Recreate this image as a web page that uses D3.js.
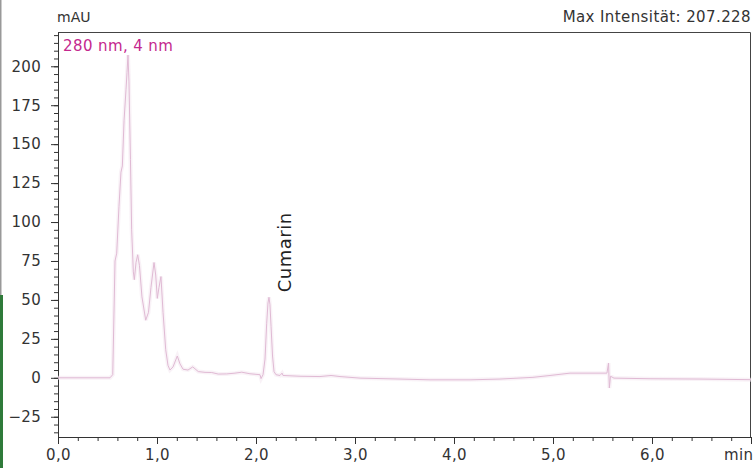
<!DOCTYPE html>
<html>
<head>
<meta charset="utf-8">
<script src="https://cdn.jsdelivr.net/npm/d3@7"></script>
<style>
  body { margin: 0; background: #fff; }
  svg { display: block; }
  .axis path, .axis line { stroke: #333; }
</style>
</head>
<body>
<script>

// retention time (min) and absorbance (mAU)
var times = [0, 0.525, 0.553, 0.576, 0.593, 0.616, 0.636, 0.65, 0.667, 0.687, 0.697, 0.707, 0.717, 0.732, 0.744,
    0.761, 0.771, 0.788, 0.805, 0.823, 0.848, 0.886, 0.914, 0.939, 0.97, 0.987, 1.003, 1.02, 1.04, 1.061,
    1.088, 1.111, 1.131, 1.162, 1.205, 1.232, 1.263, 1.313, 1.361, 1.417, 1.485, 1.553, 1.619, 1.704, 1.788,
    1.856, 1.939, 2.04, 2.051, 2.071, 2.091, 2.108, 2.121, 2.131, 2.141, 2.152, 2.167, 2.182, 2.202, 2.242,
    2.263, 2.273, 2.444, 2.646, 2.758, 2.848, 3.051, 3.455, 3.758, 4.162, 4.465, 4.798, 4.97, 5.172, 5.545,
    5.561, 5.569, 5.581, 5.616, 5.98, 6.485, 7.0];
var signal = [0, 0, 2, 75, 80, 110, 132, 136, 165, 185, 196, 207.2, 190, 140, 95,
    68, 63, 74, 79, 72, 52, 37, 42, 58, 74, 66, 51, 58, 65, 42,
    18, 8, 5, 7, 14, 9, 5.5, 5, 7, 4, 3.5, 3.4, 2.4, 2.5, 3,
    3.6, 2.6, 2, -0.5, 2, 12, 35, 48, 51.7, 47, 33, 14, 4, 2, 1.5,
    3, 1.5, 1, 0.8, 1.5, 0.8, -0.2, -0.8, -1.3, -1.3, -0.8, 0.3, 1.5, 3, 3,
    9.5, -6.5, 1, -0.2, -0.6, -0.8, -1.2];

var xMajor = [0, 1, 2, 3, 4, 5, 6, 7];
var xLabels = ["0,0", "1,0", "2,0", "3,0", "4,0", "5,0", "6,0", "min"];
var yMajor = [-25, 0, 25, 50, 75, 100, 125, 150, 175, 200];

var yUnit = "mAU";
var maxLabel = "Max Intensität: 207.228";
var channelLabel = "280 nm, 4 nm";
var peakName = "Cumarin", peakTime = 2.131, peakValue = 51.7;

var font = "'DejaVu Sans', 'Noto Sans', sans-serif";

var W = 755, H = 468;
var margin = {top: 32, right: 4, bottom: 31, left: 58},
    width = W - margin.left - margin.right,
    height = H - margin.top - margin.bottom;

var data = times.map(function(t, i) { return {t: t, v: signal[i]}; });

var svg = d3.select("body").append("svg")
    .attr("width", W)
    .attr("height", H)
    .attr("font-family", font);

// cropped page edge on the left
svg.append("rect").attr("x", 0).attr("y", 0).attr("width", 1.5).attr("height", 295).attr("fill", "#999");
svg.append("rect").attr("x", 0).attr("y", 295).attr("width", 3).attr("height", H - 295).attr("fill", "#2f7a3a");

var g = svg.append("g")
    .attr("transform", "translate(" + margin.left + "," + margin.top + ")");

var x = d3.scaleLinear().domain([0, 7]).range([0, width]);
var y = d3.scaleLinear().domain([-38, 222]).range([height, 0]);

// frame (top and right)
g.append("path")
    .attr("d", "M0,0.5H" + (width - 0.5) + "V" + height)
    .attr("fill", "none")
    .attr("stroke", "#444");

// minor ticks
g.append("g")
    .attr("class", "axis")
    .attr("transform", "translate(0," + height + ")")
    .call(d3.axisBottom(x).tickValues(d3.range(0, 7.01, 0.2)).tickSize(4).tickFormat(""))
    .call(function(s) { s.select(".domain").remove(); });
g.append("g")
    .attr("class", "axis")
    .call(d3.axisLeft(y).tickValues(d3.range(-35, 221, 5)).tickSize(4).tickFormat(""))
    .call(function(s) { s.select(".domain").remove(); });

function styleTicks(s) {
    s.attr("font-family", font).attr("font-size", 15);
    s.selectAll("text").attr("fill", "#333").attr("letter-spacing", 0.4);
}

// major axes
var xAxis = g.append("g")
    .attr("class", "axis")
    .attr("transform", "translate(0," + height + ")")
    .call(d3.axisBottom(x).tickValues(xMajor).tickSize(7).tickSizeOuter(0)
        .tickFormat(function(d, i) { return xLabels[i]; }))
    .call(styleTicks);
xAxis.selectAll("text").attr("dy", "0.85em");
xAxis.selectAll(".tick").filter(function(d) { return d === 7; })
    .select("text").attr("text-anchor", "end").attr("x", 2);

g.append("g")
    .attr("class", "axis")
    .call(d3.axisLeft(y).tickValues(yMajor).tickSize(7).tickSizeOuter(0)
        .tickFormat(function(d) { return d < 0 ? "\u2212" + Math.abs(d) : d; }))
    .call(styleTicks)
    .selectAll("text").attr("dx", "-0.45em");

// trace
var line = d3.line()
    .x(function(d) { return x(d.t); })
    .y(function(d) { return y(d.v); });

g.append("path")
    .datum(data)
    .attr("fill", "none")
    .attr("stroke", "#f5eaf2")
    .attr("stroke-width", 4)
    .attr("opacity", 0.6)
    .attr("d", line);

g.append("path")
    .datum(data)
    .attr("fill", "none")
    .attr("stroke", "#e0bad4")
    .attr("stroke-width", 1)
    .attr("d", line);

// labels
svg.append("text")
    .attr("x", margin.left - 1)
    .attr("y", 22)
    .attr("font-size", 14)
    .attr("fill", "#333")
    .text(yUnit);

svg.append("text")
    .attr("x", W - 4)
    .attr("y", 22)
    .attr("text-anchor", "end")
    .attr("font-size", 15)
    .attr("letter-spacing", 0.4)
    .attr("fill", "#333")
    .text(maxLabel);

g.append("text")
    .attr("x", 5)
    .attr("y", 19)
    .attr("font-size", 15)
    .attr("letter-spacing", 0.4)
    .attr("fill", "#c4288e")
    .text(channelLabel);

g.append("text")
    .attr("transform", "translate(" + (x(peakTime) + 22) + "," + (y(peakValue) - 5) + ") rotate(-90)")
    .attr("font-size", 18)
    .attr("letter-spacing", 0.5)
    .attr("fill", "#222")
    .text(peakName);

</script>
</body>
</html>
